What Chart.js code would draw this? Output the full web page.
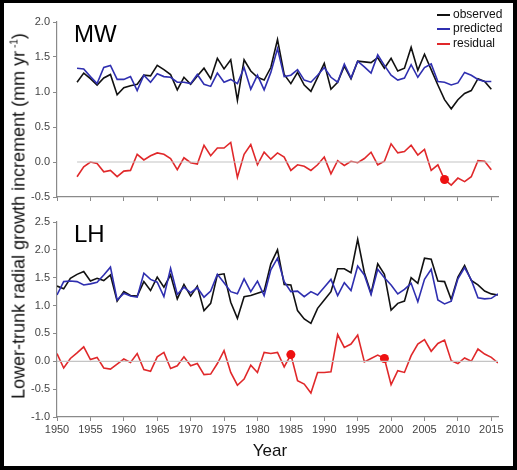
<!DOCTYPE html>
<html>
<head>
<meta charset="utf-8">
<script src="https://cdn.jsdelivr.net/npm/chart.js@4.4.1/dist/chart.umd.min.js"></script>
<style>
html, body { margin: 0; padding: 0; background: #000; width: 517px; height: 470px; overflow: hidden; }
#frame { position: absolute; left: 4px; top: 3px; width: 509px; height: 463px; background: #fff; }
canvas { position: absolute; left: 0; top: 0; }
.txt { position: absolute; font-family: Arial, "Liberation Sans", sans-serif; color: #000; white-space: nowrap; }
.panel { font-size: 24px; line-height: 24px; }
.leg { font-size: 12px; line-height: 14px; color: #111; }
.legline { position: absolute; width: 13px; height: 2px; }
</style>
</head>
<body>
<div id="frame"></div>
<canvas id="mw" width="517" height="470"></canvas>
<canvas id="lh" width="517" height="470"></canvas>

<div class="txt panel" style="left:74px;top:22px;">MW</div>
<div class="txt panel" style="left:74px;top:222px;">LH</div>

<div class="legline" style="left:437px;top:14px;background:#111;"></div>
<div class="txt leg" style="left:453px;top:7px;">observed</div>
<div class="legline" style="left:437px;top:28px;background:#2f2fb0;"></div>
<div class="txt leg" style="left:453px;top:21px;">predicted</div>
<div class="legline" style="left:437px;top:43px;background:#e0282a;"></div>
<div class="txt leg" style="left:453px;top:36px;">residual</div>

<div class="txt" style="left:19px;top:216px;font-size:18px;color:#111;transform:translate(-50%,-50%) rotate(-90deg);">Lower-trunk radial growth increment (mm yr<sup style="font-size:10px;"> -1</sup>)</div>
<div class="txt" style="left:270px;top:451px;font-size:17px;color:#111;transform:translate(-50%,-50%);">Year</div>

<script>
// MW panel (1953-2015)
const yearsMW = [1953, 1954, 1955, 1956, 1957, 1958, 1959,
    1960, 1961, 1962, 1963, 1964, 1965, 1966, 1967, 1968, 1969,
    1970, 1971, 1972, 1973, 1974, 1975, 1976, 1977, 1978, 1979,
    1980, 1981, 1982, 1983, 1984, 1985, 1986, 1987, 1988, 1989,
    1990, 1991, 1992, 1993, 1994, 1995, 1996, 1997, 1998, 1999,
    2000, 2001, 2002, 2003, 2004, 2005, 2006, 2007, 2008, 2009,
    2010, 2011, 2012, 2013, 2014, 2015];
const observedMW = [1.14, 1.27, 1.19, 1.10, 1.20, 1.25, 0.96,
    1.06, 1.09, 1.11, 1.24, 1.23, 1.38, 1.32, 1.25, 1.03, 1.21,
    1.11, 1.23, 1.34, 1.19, 1.48, 1.33, 1.46, 0.88, 1.46, 1.30,
    1.21, 1.17, 1.35, 1.75, 1.25, 1.12, 1.28, 1.10, 1.01, 1.21,
    1.41, 1.04, 1.14, 1.37, 1.19, 1.44, 1.43, 1.42, 1.49, 1.34,
    1.48, 1.30, 1.34, 1.64, 1.31, 1.54, 1.32, 1.10, 0.89, 0.76,
    0.89, 0.98, 1.02, 1.19, 1.15, 1.04];
const predictedMW = [1.34, 1.33, 1.22, 1.12, 1.35, 1.38, 1.18,
    1.18, 1.22, 1.02, 1.24, 1.14, 1.26, 1.22, 1.21, 1.14, 1.14,
    1.12, 1.25, 1.11, 1.08, 1.27, 1.14, 1.18, 1.12, 1.35, 1.04,
    1.24, 1.03, 1.28, 1.62, 1.22, 1.24, 1.32, 1.17, 1.14, 1.24,
    1.35, 1.21, 1.14, 1.40, 1.20, 1.44, 1.36, 1.27, 1.53, 1.38,
    1.24, 1.17, 1.20, 1.39, 1.21, 1.35, 1.40, 1.15, 1.14, 1.10,
    1.13, 1.28, 1.24, 1.18, 1.15, 1.15];
const residualMW = [-0.21, -0.07, 0.00, -0.02, -0.14, -0.12, -0.21,
    -0.13, -0.12, 0.11, 0.03, 0.09, 0.13, 0.11, 0.05, -0.11, 0.06,
    -0.01, -0.03, 0.24, 0.09, 0.20, 0.20, 0.28, -0.22, 0.11, 0.25,
    -0.04, 0.14, 0.04, 0.13, 0.07, -0.12, -0.04, -0.06, -0.12, -0.04,
    0.07, -0.17, 0.02, -0.05, 0.01, -0.01, 0.05, 0.14, -0.04, 0.01,
    0.26, 0.13, 0.15, 0.24, 0.10, 0.18, -0.12, -0.04, -0.25, -0.33,
    -0.23, -0.28, -0.21, 0.02, 0.01, -0.11];
const markedMW = [2008];

// LH panel (1950-2016)
const yearsLH = [1950, 1951, 1952, 1953, 1954, 1955, 1956, 1957, 1958, 1959,
    1960, 1961, 1962, 1963, 1964, 1965, 1966, 1967, 1968, 1969,
    1970, 1971, 1972, 1973, 1974, 1975, 1976, 1977, 1978, 1979,
    1980, 1981, 1982, 1983, 1984, 1985, 1986, 1987, 1988, 1989,
    1990, 1991, 1992, 1993, 1994, 1995, 1996, 1997, 1998, 1999,
    2000, 2001, 2002, 2003, 2004, 2005, 2006, 2007, 2008, 2009,
    2010, 2011, 2012, 2013, 2014, 2015, 2016];
const observedLH = [1.35, 1.30, 1.49, 1.56, 1.61, 1.44, 1.49, 1.45, 1.55, 1.08,
    1.25, 1.18, 1.17, 1.43, 1.27, 1.51, 1.33, 1.55, 1.12, 1.38,
    1.17, 1.35, 0.91, 1.04, 1.55, 1.57, 1.06, 0.77, 1.16, 1.18,
    1.22, 1.26, 1.75, 2.00, 1.38, 1.37, 0.91, 0.76, 0.68, 0.95,
    1.10, 1.25, 1.66, 1.66, 1.59, 2.19, 1.59, 1.22, 1.75, 1.56,
    0.92, 1.04, 1.08, 1.50, 1.40, 1.85, 1.83, 1.44, 1.43, 1.11,
    1.51, 1.72, 1.45, 1.37, 1.26, 1.21, 1.19];
const predictedLH = [1.19, 1.43, 1.44, 1.43, 1.37, 1.39, 1.42, 1.55, 1.69, 1.10,
    1.22, 1.17, 1.15, 1.58, 1.47, 1.42, 1.16, 1.67, 1.20, 1.33,
    1.23, 1.32, 1.15, 1.26, 1.56, 1.41, 1.25, 1.21, 1.48, 1.25,
    1.44, 1.18, 1.64, 1.85, 1.43, 1.25, 1.26, 1.16, 1.25, 1.19,
    1.33, 1.47, 1.18, 1.41, 1.27, 1.71, 1.55, 1.20, 1.65, 1.50,
    1.37, 1.21, 1.29, 1.40, 1.07, 1.47, 1.65, 1.10, 1.03, 1.08,
    1.48, 1.68, 1.46, 1.14, 1.12, 1.13, 1.21];
const residualLH = [0.14, -0.12, 0.05, 0.15, 0.26, 0.03, 0.07, -0.12, -0.14, -0.05,
    0.04, -0.02, 0.14, -0.15, -0.18, 0.08, 0.16, -0.13, -0.08, 0.08,
    -0.08, -0.04, -0.24, -0.23, -0.04, 0.19, -0.20, -0.43, -0.32, -0.07,
    -0.20, 0.16, 0.14, 0.16, -0.10, 0.12, -0.35, -0.41, -0.57, -0.20,
    -0.20, -0.19, 0.48, 0.25, 0.31, 0.47, -0.01, 0.05, 0.11, 0.05,
    -0.42, -0.17, -0.20, 0.10, 0.31, 0.39, 0.18, 0.32, 0.38, 0.01,
    -0.04, 0.06, 0.00, 0.22, 0.13, 0.07, -0.03];
const markedLH = [1985, 1999];

const FONT = 'Arial, "Liberation Sans", sans-serif';
const AXIS_GREY = '#8a8a8a';

function xy(years, values) {
    return years.map((yr, i) => ({ x: yr, y: values[i] }));
}

function makePanel(id, years, obs, pred, res, marked, yMin, yMax, showYears, pad, xHeight) {
    const first = years[0], last = years[years.length - 1];
    return new Chart(document.getElementById(id), {
        type: 'line',
        data: {
            datasets: [
                {
                    label: 'zero',
                    data: [{ x: first, y: 0 }, { x: last, y: 0 }],
                    borderColor: '#c4c4c4',
                    borderWidth: 1.2,
                    pointRadius: 0
                },
                {
                    label: 'residual',
                    data: xy(years, res),
                    borderColor: '#e0282a',
                    borderWidth: 1.6,
                    backgroundColor: '#ee1111',
                    pointBorderWidth: 0,
                    pointRadius: ctx => marked.includes(years[ctx.dataIndex]) ? 4.5 : 0
                },
                {
                    label: 'predicted',
                    data: xy(years, pred),
                    borderColor: '#2f2fb0',
                    borderWidth: 1.6,
                    pointRadius: 0
                },
                {
                    label: 'observed',
                    data: xy(years, obs),
                    borderColor: '#111',
                    borderWidth: 1.6,
                    pointRadius: 0
                }
            ]
        },
        options: {
            responsive: false,
            animation: false,
            events: [],
            tension: 0,
            layout: { padding: pad },
            plugins: { legend: { display: false }, tooltip: { enabled: false } },
            scales: {
                x: {
                    type: 'linear',
                    min: 1950,
                    max: 2016,
                    afterFit: s => { s.height = xHeight; },
                    border: { color: AXIS_GREY, width: 1.2 },
                    grid: { drawOnChartArea: false, drawTicks: true, tickLength: 4, color: AXIS_GREY },
                    ticks: {
                        stepSize: 5,
                        includeBounds: false,
                        display: showYears,
                        padding: 2,
                        color: '#444',
                        font: { family: FONT, size: 11 },
                        maxRotation: 0,
                        callback: v => String(v)
                    }
                },
                y: {
                    min: yMin,
                    max: yMax,
                    afterFit: s => { s.width = 30; },
                    border: { color: AXIS_GREY, width: 1.2 },
                    grid: { drawOnChartArea: false, drawTicks: true, tickLength: 4, color: AXIS_GREY },
                    ticks: {
                        stepSize: 0.5,
                        padding: 3,
                        color: '#444',
                        font: { family: FONT, size: 11 },
                        callback: v => v.toFixed(1)
                    }
                }
            }
        }
    });
}

// chart areas: MW x 57..498, y 22..197 ; LH x 57..498, y 222..417
makePanel('mw', yearsMW, observedMW, predictedMW, residualMW, markedMW, -0.5, 2.0, false,
    { left: 27, right: 19, top: 22, bottom: 470 - 197 - 5 }, 5);
makePanel('lh', yearsLH, observedLH, predictedLH, residualLH, markedLH, -1.0, 2.5, true,
    { left: 27, right: 19, top: 222, bottom: 470 - 417 - 22 }, 22);
</script>
</body>
</html>
